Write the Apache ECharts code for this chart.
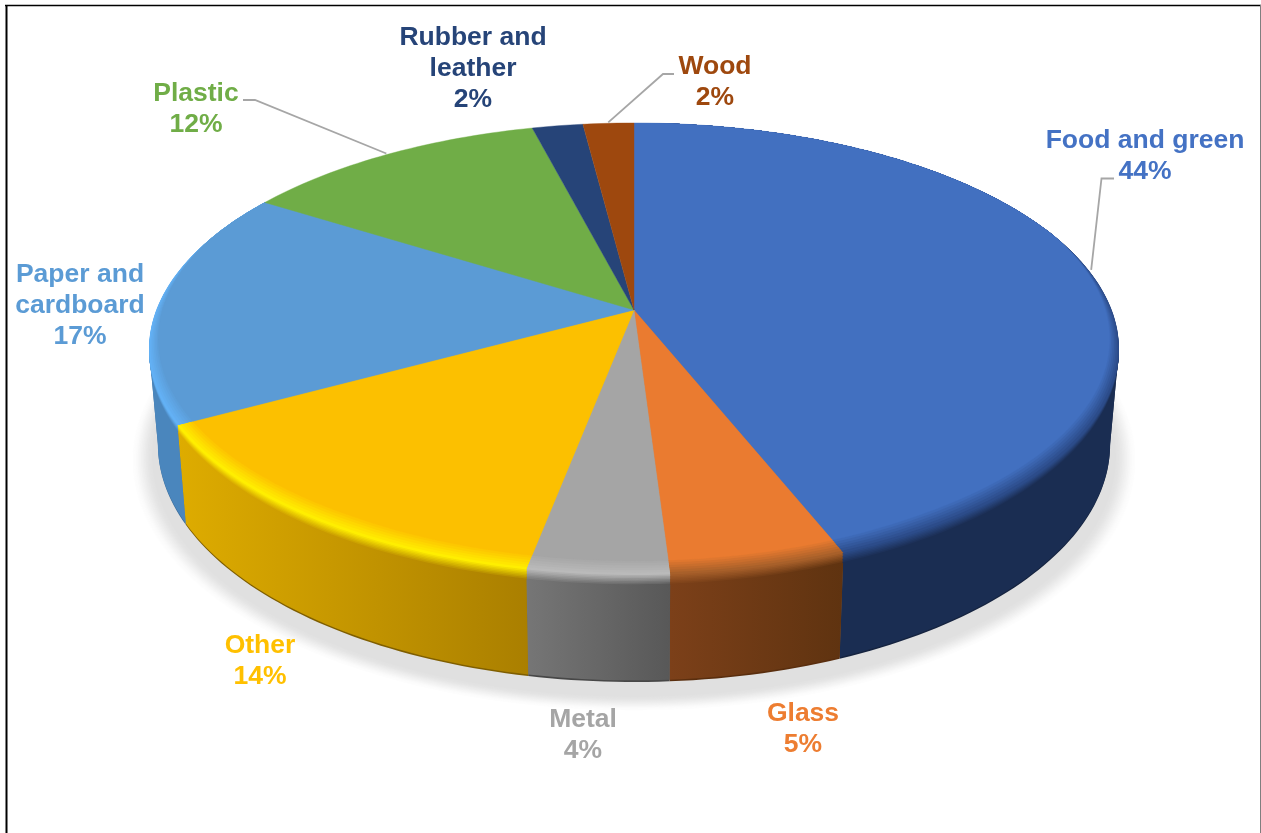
<!DOCTYPE html>
<html>
<head>
<meta charset="utf-8">
<style>html,body{margin:0;padding:0;background:#fff}#c{width:1261px;height:833px}</style>
<script src="https://cdn.jsdelivr.net/npm/echarts@6/dist/echarts.min.js"></script>
</head>
<body>
<div id="c"></div>
<script>
// ---- data ----
var categories = ['Food and green', 'Glass', 'Metal', 'Other', 'Paper and\ncardboard', 'Plastic', 'Rubber and\nleather', 'Wood'];
var shareValues = [44, 5, 4, 14, 17, 12, 2, 2];

// ---- styles ----
var topColors   = ['#4270C0', '#EA7B30', '#A5A5A5', '#FCC000', '#5B9BD5', '#70AD47', '#264478', '#9E480E'];
var labelColors = ['#4472C4', '#ED7D31', '#A5A5A5', '#FFC000', '#5B9BD5', '#70AD47', '#264478', '#9E480E'];
var wallLeft    = ['#1A2D52', '#7C4019', '#767676', '#DEAC00', '#4A86BD', null, null, null];
var wallRight   = ['#1A2D52', '#5F3310', '#585858', '#AA7F00', '#4A86BD', null, null, null];
var rimColors   = ['#2C4C8A', '#A8602A', '#BABABA', '#FFEE00', '#63B1F5', null, null, null];
var wallEdge    = ['#15233F', '#5A2E0E', '#474747', '#7F5E00', '#3C6D9A', null, null, null];

// ---- layout ----
var pieCx = 634, tilt = 0.1726;
var topDisc = {y0: 310, a: 219.3, b: 477.7};
var baseDisc = {y0: 404, a: 230, b: 468.9};
var labelCentres = [[1145, 156], [803, 729], [583, 735], [260, 661], [80, 306], [196, 109], [473, 69], [715, 82]];
var leaderElbows = [[[1114, 178.5], [1101.5, 178.5]], null, null, null, null, [[243, 100], [255, 100]], null, [[674, 74], [663, 74]]];

function rad(d) { return d * Math.PI / 180; }
var total = shareValues.reduce(function (s, v) { return s + v; }, 0);
var startAngles = [], acc = 0;
shareValues.forEach(function (v) { startAngles.push(acc / total * 360); acc += v; });

function clamp(v, a, b) { return Math.max(a, Math.min(b, v)); }
function discPoint(disc, t, r) {
  var u = Math.sin(rad(t)) * r, v = -Math.cos(rad(t)) * r, d = 1 - tilt * v;
  return [pieCx + disc.b * u / d, disc.y0 + disc.a * v / d];
}
// point on the pie: t angle, r radius share, h height share from top face down to base
function piePoint(t, r, h) {
  var p = discPoint(topDisc, t, r), q = discPoint(baseDisc, t, r);
  return [p[0] + (q[0] - p[0]) * h, p[1] + (q[1] - p[1]) * h];
}
function front(t) { return clamp((-Math.cos(rad(t)) + 0.35) / 1.2, 0, 1); }
function range(a, b) {
  var out = [], n = Math.max(2, Math.ceil((b - a) / 1.2));
  for (var i = 0; i <= n; i++) out.push(a + (b - a) * i / n);
  return out;
}
function hex(c) { return [parseInt(c.substr(1, 2), 16), parseInt(c.substr(3, 2), 16), parseInt(c.substr(5, 2), 16)]; }
function mix(a, b, s) {
  var x = hex(a), y = hex(b);
  return 'rgb(' + [0, 1, 2].map(function (i) { return Math.round(x[i] + (y[i] - x[i]) * s); }).join(',') + ')';
}
function xGrad(x0, x1, c0, c1) {
  return new echarts.graphic.LinearGradient(x0, 0, x1, 0, [{offset: 0, color: c0}, {offset: 1, color: c1}], true);
}
function poly(points, fill, z2, extra) {
  var style = {fill: fill};
  if (extra) for (var k in extra) style[k] = extra[k];
  return {type: 'polygon', shape: {points: points}, style: style, z2: z2, silent: true};
}

function renderSlice(params, api) {
  var i = api.value(0), value = api.value(1);
  var a0 = startAngles[i], a1 = a0 + value / total * 360;
  var kids = [];

  if (i === 0) {
    var shadowSteps = 16;
    for (var q = 0; q < shadowSteps; q++) {
      var sq = q / (shadowSteps - 1);
      var outline = range(0, 360).map(function (t) {
        var p = piePoint(t, 1.058 - 0.05 * sq, 1);
        return [p[0], p[1] + 11];
      });
      kids.push(poly(outline, mix('#FFFFFF', '#E0E0E0', sq * sq * (3 - 2 * sq)), 1));
    }
  }

  var wa0 = Math.max(a0, 100), wa1 = Math.min(a1, 260);
  var hasWall = wallLeft[i] && wa1 > wa0;
  if (hasWall) {
    var ts = range(wa0, wa1), xs = [];
    var wallPts = function (h) {
      var up = ts.map(function (t) { return piePoint(t, 1, 0); });
      var dn = ts.slice().reverse().map(function (t) { return piePoint(t, 1, h); });
      return up.concat(dn);
    };
    var full = wallPts(1);
    full.forEach(function (p) { xs.push(p[0]); });
    var xmin = Math.min.apply(null, xs), xmax = Math.max.apply(null, xs);
    var wl = wallLeft[i], wr = wallRight[i], rc = rimColors[i], tc = topColors[i];
    kids.push(poly(full, wallEdge[i], 2));
    kids.push(poly(wallPts(0.985), xGrad(xmin, xmax, wl, wr), 3));

    var wedge = function (rl, hl) {
      var pts = [[pieCx, topDisc.y0]];
      range(a0, a1).forEach(function (t) {
        var f = front(t);
        pts.push(piePoint(t, 1 - (1 - rl) * f, hl * f));
      });
      return pts;
    };
    var n1 = 7, n2 = 6, k, s;
    for (k = 0; k < n1; k++) {
      s = k / n1;
      kids.push(poly(wedge(1, 0.1 * (1 - s)), xGrad(xmin, xmax, mix(wl, rc, s), mix(wr, rc, s)), 10 + k));
    }
    for (k = 0; k < n2; k++) {
      s = k / n2;
      kids.push(poly(wedge(1 - 0.045 * s, 0), mix(rc, tc, s), 20 + k));
    }
    kids.push(poly(wedge(0.955, 0), tc, 30, {stroke: tc, lineWidth: 0.4}));
  } else {
    var pts = [[pieCx, topDisc.y0]];
    range(a0, a1).forEach(function (t) { pts.push(piePoint(t, 1, 0)); });
    kids.push(poly(pts, topColors[i], 30, {stroke: topColors[i], lineWidth: 0.4}));
  }

  if (leaderElbows[i]) {
    var anchor = piePoint((a0 + a1) / 2, 1.006, 0);
    kids.push({
      type: 'polyline', silent: true, z2: 40,
      shape: {points: leaderElbows[i].concat([anchor])},
      style: {fill: null, stroke: '#A6A6A6', lineWidth: 1.8}
    });
  }

  var c = labelCentres[i];
  kids.push({
    type: 'text', silent: true, z2: 50,
    style: {
      x: c[0], y: c[1],
      text: categories[i] + '\n' + value + '%',
      fill: labelColors[i],
      fontFamily: '"Liberation Sans", Arial, sans-serif',
      fontWeight: 'bold', fontSize: 26.5, lineHeight: 31,
      align: 'center', verticalAlign: 'middle'
    }
  });
  return {type: 'group', children: kids};
}

var chart = echarts.init(document.getElementById('c'), null, {renderer: 'canvas'});
chart.setOption({
  animation: false,
  backgroundColor: '#ffffff',
  graphic: [
    {type: 'line', shape: {x1: 5, y1: 5.5, x2: 1261, y2: 5.5}, style: {stroke: '#000', lineWidth: 1.5}, silent: true},
    {type: 'line', shape: {x1: 6.5, y1: 5, x2: 6.5, y2: 833}, style: {stroke: '#000', lineWidth: 2}, silent: true},
    {type: 'line', shape: {x1: 1260.5, y1: 5, x2: 1260.5, y2: 833}, style: {stroke: '#7F7F7F', lineWidth: 1}, silent: true}
  ],
  series: [{
    type: 'custom',
    coordinateSystem: 'none',
    renderItem: renderSlice,
    data: shareValues.map(function (v, i) { return [i, v, categories[i]]; })
  }]
});
</script>
</body>
</html>
